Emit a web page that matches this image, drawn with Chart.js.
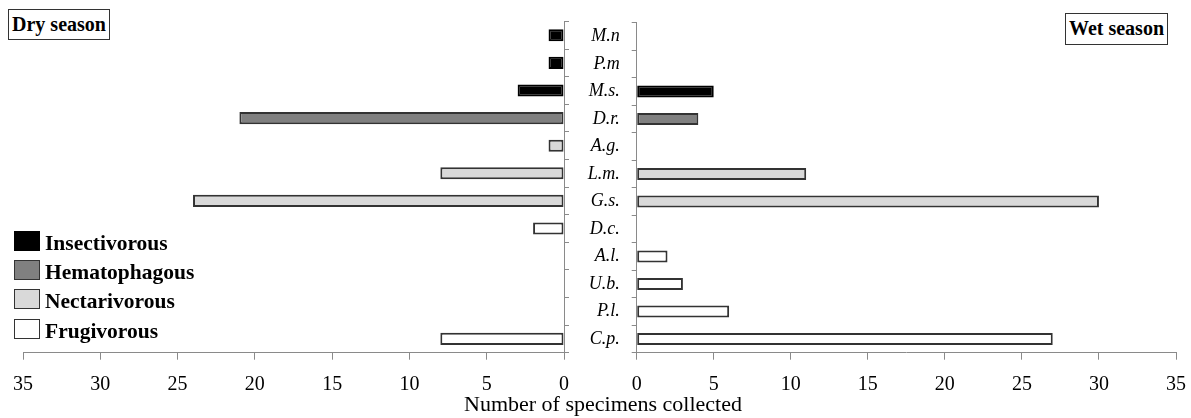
<!DOCTYPE html>
<html>
<head>
<meta charset="utf-8">
<script src="https://cdn.jsdelivr.net/npm/chart.js@4.4.0/dist/chart.umd.min.js"></script>
<style>
  html, body { margin: 0; padding: 0; background: #fff; }
  #wrap { position: relative; width: 1191px; height: 418px; overflow: hidden;
          font-family: 'Liberation Serif', 'Times New Roman', serif; color: #000; }
  #wrap canvas { position: absolute; left: 0; top: 0; }
  .season { position: absolute; box-sizing: border-box; border: 1.5px solid #333;
            font-weight: bold; font-size: 20px; line-height: 29px; text-align: center; background: #fff; }
  .leg-item { position: absolute; left: 14px; height: 21px; }
  .leg-box { position: absolute; left: 0; top: 0; width: 26px; height: 20px; box-sizing: border-box; border: 1.5px solid #333; }
  .leg-text { position: absolute; left: 31px; top: 0; white-space: nowrap; font-weight: bold; font-size: 21.5px; line-height: 24px; }
  #xtitle { position: absolute; left: 0; width: 1206px; top: 393px; text-align: center; font-size: 22px; line-height: 22px; white-space: nowrap; }
</style>
</head>
<body>
<div id="wrap">
  <canvas id="left" width="1230" height="418"></canvas>
  <canvas id="right" width="1230" height="418"></canvas>
  <div class="season" style="left:8px; top:9px; width:102px; height:31px;">Dry season</div>
  <div class="season" style="left:1065px; top:13px; width:103px; height:32px;">Wet season</div>
  <div id="legend"></div>
  <div id="xtitle">Number of specimens collected</div>
</div>
<script>
// ---- data ----
const categories = ['M.n', 'P.m', 'M.s.', 'D.r.', 'A.g.', 'L.m.', 'G.s.', 'D.c.', 'A.l.', 'U.b.', 'P.l.', 'C.p.'];
const drySeason  = [1, 1, 3, 21, 1, 8, 24, 2, 0, 0, 0, 8];
const wetSeason  = [0, 0, 5, 4, 0, 11, 30, 0, 2, 3, 6, 27];
const dietGroup  = ['Insectivorous', 'Insectivorous', 'Insectivorous', 'Hematophagous',
                    'Nectarivorous', 'Nectarivorous', 'Nectarivorous',
                    'Frugivorous', 'Frugivorous', 'Frugivorous', 'Frugivorous', 'Frugivorous'];
const groups     = ['Insectivorous', 'Hematophagous', 'Nectarivorous', 'Frugivorous'];
const groupFill  = ['#000000', '#808080', '#d9d9d9', '#ffffff'];
const groupLine  = ['#000000', '#333333', '#333333', '#333333'];
const xMin = 0, xMax = 35, xStep = 5;

// ---- styling ----
const FONT = "'Liberation Serif', 'Times New Roman', serif";
const AXIS = '#8a8a8a';
const CW = 1230; // canvas width (wider than view; the overflow is clipped)
const fillFor = c => groupFill[groups.indexOf(c)];
const lineFor = c => groupLine[groups.indexOf(c)];

// legend (built from the group arrays)
const legendEl = document.getElementById('legend');
const legTops = [230.5, 259.5, 289, 319];
groups.forEach((g, i) => {
  const item = document.createElement('div');
  item.className = 'leg-item';
  item.style.top = legTops[i] + 'px';
  const box = document.createElement('div');
  box.className = 'leg-box';
  box.style.background = groupFill[i];
  box.style.borderColor = groupLine[i];
  const txt = document.createElement('div');
  txt.className = 'leg-text';
  txt.textContent = g;
  item.appendChild(box); item.appendChild(txt);
  legendEl.appendChild(item);
});

function dataset(label, values) {
  return {
    label,
    data: values,
    backgroundColor: dietGroup.map(fillFor),
    borderColor: dietGroup.map(lineFor),
    borderWidth: 2,
    borderSkipped: false,
    barPercentage: 0.44,
    categoryPercentage: 1
  };
}

const leftAxisX = 564, rightAxisX = 636.7, rightEnd = 1176, leftStart = 23;
const areaTop = 21.5, areaBottom = 352.7, xAxisH = 42;

function xScale(reverse) {
  return {
    type: 'linear', min: xMin, max: xMax, reverse,
    ticks: { stepSize: xStep, color: '#000', font: { family: FONT, size: 20 }, padding: 13 },
    grid: { drawOnChartArea: false, drawTicks: true, tickLength: 7, color: AXIS, lineWidth: 1 },
    border: { display: true, color: AXIS, width: 1 },
    afterFit: s => { s.height = xAxisH; }
  };
}

// Dry season (left, reversed)
new Chart(document.getElementById('left'), {
  type: 'bar',
  data: { labels: categories, datasets: [dataset('Dry season', drySeason)] },
  options: {
    indexAxis: 'y', responsive: false, animation: false,
    layout: { padding: { left: leftStart, right: CW - leftAxisX - 5, top: areaTop, bottom: 418 - areaBottom - xAxisH } },
    plugins: { legend: { display: false }, tooltip: { enabled: false } },
    scales: {
      x: xScale(true),
      y: {
        position: 'right',
        ticks: { display: false },
        grid: { drawOnChartArea: false, tickLength: 5, color: AXIS, offset: true },
        border: { display: true, color: AXIS, width: 1 },
        afterFit: s => { s.width = 5; }
      }
    }
  }
});

// Wet season (right)
const yW = 60;
new Chart(document.getElementById('right'), {
  type: 'bar',
  data: { labels: categories, datasets: [dataset('Wet season', wetSeason)] },
  options: {
    indexAxis: 'y', responsive: false, animation: false,
    layout: { padding: { left: rightAxisX - yW, right: CW - rightEnd, top: areaTop, bottom: 418 - areaBottom - xAxisH } },
    plugins: { legend: { display: false }, tooltip: { enabled: false } },
    scales: {
      x: xScale(false),
      y: {
        position: 'left',
        ticks: { color: '#000', font: { family: FONT, size: 18, style: 'italic' }, padding: 12 },
        grid: { drawOnChartArea: false, tickLength: 5, color: AXIS, offset: true },
        border: { display: true, color: AXIS, width: 1 },
        afterFit: s => { s.width = yW; }
      }
    }
  }
});
</script>
</body>
</html>
